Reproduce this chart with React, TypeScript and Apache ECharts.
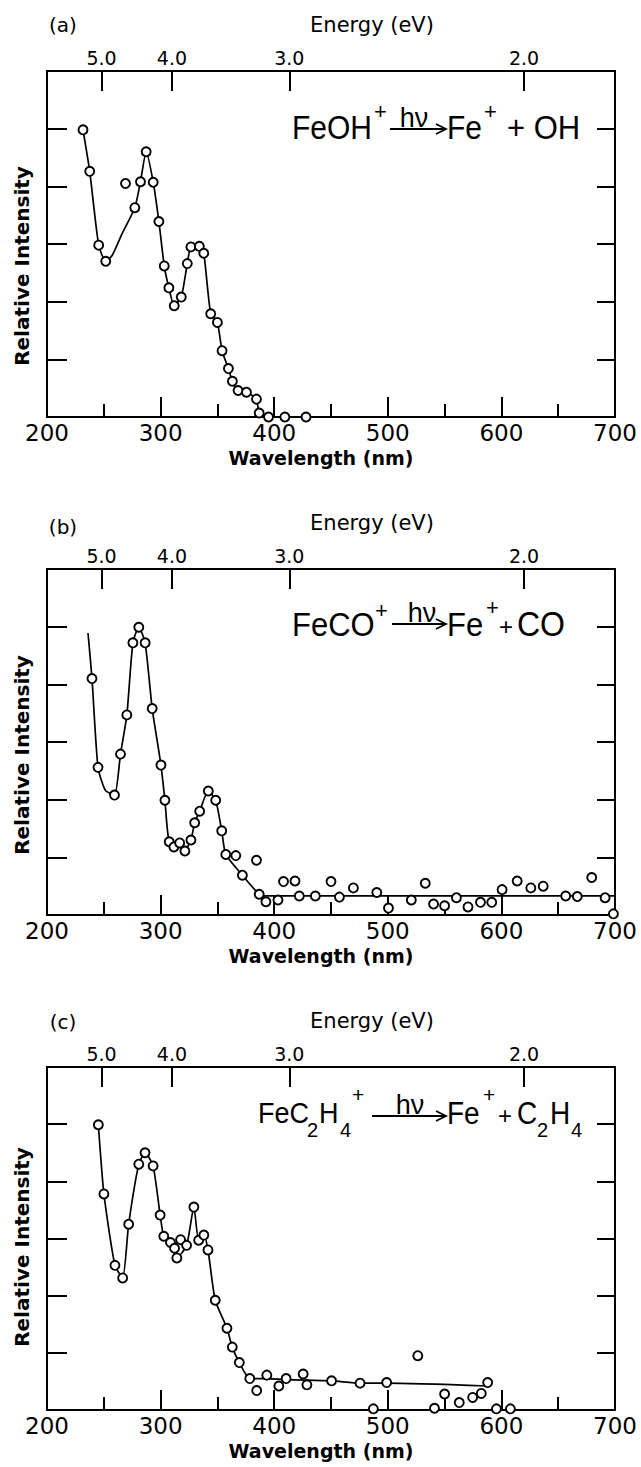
import React, { useEffect, useRef } from "react";
import * as echarts from "echarts";

// Photon energy conversion: E (eV) = HC / wavelength (nm)
const HC = 1239.84;
const ENERGY_TICKS = [5.0, 4.0, 3.0, 2.0];
const PANEL_LABELS = ["(a)", "(b)", "(c)"];

// ---- Panel (a): FeOH+ ----
const aPtsWl = [231.7, 237.6, 245.5, 251.7, 269.1, 277.3, 282.3, 287.3, 293.5, 298.5, 303.2, 307.3, 312.0, 318.2, 323.5, 326.7, 334.1, 338.0, 344.1, 350.0, 354.1, 359.7, 363.2, 368.2, 375.6, 384.4, 386.8, 395.0, 409.4, 428.0];
const aPtsInt = [4.98, 4.26, 2.98, 2.70, 4.05, 3.63, 4.08, 4.60, 4.07, 3.39, 2.62, 2.24, 1.93, 2.08, 2.66, 2.95, 2.96, 2.84, 1.79, 1.64, 1.15, 0.84, 0.62, 0.46, 0.43, 0.31, 0.07, 0.0, 0.0, 0.0];
const aCurveWl = [231.7, 237.6, 245.5, 251.7, 257.3, 266.1, 277.3, 282.3, 287.3, 293.5, 298.5, 303.2, 307.3, 312.0, 318.2, 323.5, 326.7, 334.1, 338.0, 344.1, 350.0, 354.1, 359.7, 363.2, 368.2, 375.6, 384.4, 386.8, 395.0];
const aCurveInt = [4.98, 4.26, 2.98, 2.70, 2.80, 3.18, 3.63, 4.08, 4.60, 4.07, 3.39, 2.62, 2.24, 1.93, 2.08, 2.66, 2.95, 2.96, 2.84, 1.79, 1.64, 1.15, 0.84, 0.62, 0.46, 0.43, 0.31, 0.07, 0.0];

// ---- Panel (b): FeCO+ ----
const bPtsWl = [239.6, 244.9, 259.4, 264.7, 270.3, 275.6, 280.8, 286.4, 292.6, 300.3, 303.8, 307.6, 311.7, 316.8, 321.4, 326.7, 330.0, 334.4, 342.0, 348.5, 353.8, 357.4, 366.2, 372.0, 384.4, 386.8, 392.7, 403.3, 408.2, 418.3, 422.1, 436.2, 450.0, 457.4, 469.7, 490.3, 500.6, 520.7, 533.0, 540.3, 550.0, 560.4, 570.6, 581.6, 591.5, 600.6, 613.9, 625.9, 636.8, 656.6, 666.8, 679.5, 691.3, 698.6];
const bPtsInt = [4.10, 2.56, 2.08, 2.79, 3.47, 4.72, 4.99, 4.72, 3.58, 2.60, 1.99, 1.27, 1.18, 1.25, 1.11, 1.30, 1.60, 1.80, 2.15, 1.99, 1.46, 1.05, 1.03, 0.69, 0.95, 0.36, 0.23, 0.26, 0.58, 0.59, 0.33, 0.33, 0.58, 0.31, 0.47, 0.39, 0.12, 0.26, 0.55, 0.19, 0.16, 0.30, 0.14, 0.22, 0.22, 0.44, 0.59, 0.47, 0.50, 0.33, 0.32, 0.65, 0.30, 0.02];
const bCurveWl = [236.1, 239.6, 244.9, 251.4, 259.4, 264.7, 270.3, 275.6, 280.8, 286.4, 292.6, 300.3, 303.8, 307.6, 316.0, 321.4, 326.7, 330.0, 334.4, 342.0, 348.5, 353.8, 357.4, 372.0, 386.8, 393.0, 700.0];
const bCurveInt = [4.89, 4.10, 2.56, 2.16, 2.08, 2.79, 3.47, 4.72, 4.99, 4.72, 3.58, 2.60, 1.99, 1.27, 1.20, 1.13, 1.30, 1.60, 1.80, 2.15, 1.99, 1.46, 1.05, 0.69, 0.36, 0.33, 0.33];

// ---- Panel (c): FeC2H4+ ----
const cPtsWl = [245.2, 250.1, 259.8, 266.6, 271.9, 280.8, 286.3, 293.4, 299.6, 302.8, 308.7, 312.3, 314.3, 317.6, 322.9, 329.3, 333.5, 338.1, 341.7, 348.1, 358.4, 363.1, 369.3, 378.5, 384.6, 393.5, 404.1, 410.5, 425.5, 428.8, 450.5, 475.6, 487.3, 499.0, 526.4, 541.1, 550.0, 562.9, 574.7, 582.3, 587.9, 595.6, 607.9];
const cPtsInt = [4.99, 3.78, 2.53, 2.31, 3.25, 4.30, 4.50, 4.27, 3.41, 3.04, 2.93, 2.83, 2.66, 2.98, 2.88, 3.55, 2.97, 3.06, 2.80, 1.92, 1.43, 1.10, 0.83, 0.55, 0.34, 0.61, 0.42, 0.55, 0.63, 0.44, 0.51, 0.47, 0.02, 0.48, 0.95, 0.03, 0.28, 0.13, 0.22, 0.29, 0.48, 0.02, 0.02];
const cCurveWl = [245.2, 250.1, 259.8, 266.6, 271.9, 280.8, 286.3, 293.4, 299.6, 302.8, 308.7, 314.3, 322.9, 329.3, 333.5, 338.1, 341.7, 348.1, 358.4, 363.1, 369.3, 378.5, 393.5, 410.5, 450.5, 475.6, 499.0, 587.9];
const cCurveInt = [4.99, 3.78, 2.53, 2.31, 3.25, 4.30, 4.50, 4.27, 3.41, 3.04, 2.93, 2.66, 2.88, 3.55, 2.97, 3.06, 2.80, 1.92, 1.43, 1.10, 0.83, 0.55, 0.55, 0.53, 0.51, 0.47, 0.47, 0.42];

const zip = (xs: number[], ys: number[]) => xs.map((x, i) => [x, ys[i]]);

const BLACK = "#000";
const AXIS_FONT = "DejaVu Sans";
const REACT_FONT = "Liberation Sans";
const axisLine = { show: true, onZero: false, lineStyle: { color: BLACK, width: 2 } };
const tickLine = { color: BLACK, width: 2 };

const GRIDS = [
  { left: 47, top: 71, width: 568, height: 346 },
  { left: 47, top: 569, width: 568, height: 346 },
  { left: 47, top: 1067, width: 568, height: 343 },
];

function xBottom(gridIndex: number) {
  return {
    type: "value",
    gridIndex,
    position: "bottom",
    min: 200,
    max: 700,
    interval: 100,
    axisLine,
    axisTick: { show: true, inside: true, length: 20, lineStyle: tickLine },
    minorTick: { show: true, splitNumber: 2, length: 13, lineStyle: tickLine },
    axisLabel: { color: BLACK, fontFamily: AXIS_FONT, fontSize: 23, margin: 4 },
    splitLine: { show: false },
    minorSplitLine: { show: false },
    name: "Wavelength (nm)",
    nameLocation: "middle",
    nameGap: 31,
    nameTextStyle: { color: BLACK, fontFamily: AXIS_FONT, fontWeight: "bold", fontSize: 19, padding: [0, 20, 0, 0] },
  };
}

function xTop(gridIndex: number) {
  const vals = ENERGY_TICKS.map((e) => HC / e);
  return {
    type: "value",
    gridIndex,
    position: "top",
    min: 200,
    max: 700,
    axisLine,
    axisTick: { show: true, inside: true, length: 20, customValues: vals, lineStyle: tickLine },
    axisLabel: {
      show: true,
      customValues: vals,
      formatter: (v: number) => (HC / v).toFixed(1),
      color: BLACK,
      fontFamily: AXIS_FONT,
      fontSize: 19,
      margin: 4,
    },
    splitLine: { show: false },
    name: "Energy (eV)",
    nameLocation: "middle",
    nameGap: 36,
    nameTextStyle: { color: BLACK, fontFamily: AXIS_FONT, fontSize: 21, padding: [0, 0, 0, 82] },
  };
}

function yLeft(gridIndex: number) {
  return {
    type: "value",
    gridIndex,
    position: "left",
    min: 0,
    max: 6,
    interval: 1,
    axisLine,
    axisTick: { show: true, inside: true, length: 20, lineStyle: tickLine },
    axisLabel: { show: false },
    splitLine: { show: false },
  };
}

function yRight(gridIndex: number) {
  return {
    type: "value",
    gridIndex,
    position: "right",
    min: 0,
    max: 6,
    interval: 1,
    axisLine,
    axisTick: { show: true, inside: true, length: 18, lineStyle: tickLine },
    axisLabel: { show: false },
    splitLine: { show: false },
  };
}

function panelSeries(i: number, pts: number[][], curve: number[][]) {
  return [
    {
      type: "line",
      xAxisIndex: 2 * i,
      yAxisIndex: 2 * i,
      data: curve,
      showSymbol: false,
      symbol: "none",
      smooth: 0.2,
      clip: false,
      lineStyle: { color: BLACK, width: 1.7 },
      z: 2,
    },
    {
      type: "scatter",
      xAxisIndex: 2 * i,
      yAxisIndex: 2 * i,
      data: pts,
      symbol: "circle",
      symbolSize: 9,
      clip: false,
      itemStyle: { color: "#fff", borderColor: BLACK, borderWidth: 1.9, opacity: 1 },
      z: 3,
    },
  ];
}

function txt(text: string, x: number, y: number, fontSize: number, opts: any = {}) {
  return {
    type: "text",
    x,
    y,
    z: 10,
    scaleY: opts.scaleY ?? 1,
    rotation: opts.rotation ?? 0,
    style: {
      text,
      fill: BLACK,
      fontSize,
      fontFamily: opts.fontFamily ?? REACT_FONT,
      fontWeight: opts.fontWeight ?? "normal",
      textAlign: opts.align ?? "left",
      textVerticalAlign: opts.valign ?? "middle",
    },
  };
}

function arrow(x1: number, x2: number, y: number) {
  return [
    { type: "line", z: 10, shape: { x1, y1: y, x2, y2: y }, style: { stroke: BLACK, lineWidth: 1.8 } },
    {
      type: "polyline",
      z: 10,
      shape: { points: [[x2 - 10, y - 5], [x2, y], [x2 - 10, y + 5]] },
      style: { stroke: BLACK, lineWidth: 1.8, fill: "none" },
    },
  ];
}

function buildGraphics() {
  const g: any[] = [];
  const labelY = [25, 527, 1022];
  labelY.forEach((y, i) => g.push(txt(PANEL_LABELS[i], 63, y, 20, { align: "center", fontFamily: AXIS_FONT })));

  // y-axis titles
  const yTitleY = [266, 755, 1247];
  yTitleY.forEach((y) =>
    g.push(
      txt("Relative Intensity", 22, y, 20, {
        align: "center",
        fontFamily: AXIS_FONT,
        fontWeight: "bold",
        rotation: Math.PI / 2,
      })
    )
  );

  const big = { scaleY: 1.1 };
  // (a) FeOH+ -> Fe+ + OH
  g.push(txt("FeOH", 292, 127, 30, big));
  g.push(txt("+", 374, 111, 22));
  g.push(...arrow(390, 446, 129));
  g.push(txt("hν", 414, 131, 27, { align: "center", valign: "bottom" }));
  g.push(txt("Fe", 447, 127, 30, big));
  g.push(txt("+", 484, 111, 22));
  g.push(txt("+ OH", 507, 127, 31, big));

  // (b) FeCO+ -> Fe+ + CO
  g.push(txt("FeCO", 292, 624, 31, big));
  g.push(txt("+", 375, 610, 22));
  g.push(...arrow(392, 446, 624));
  g.push(txt("hν", 422, 626, 27, { align: "center", valign: "bottom" }));
  g.push(txt("Fe", 447, 624, 31, big));
  g.push(txt("+", 486, 607, 22));
  g.push(txt("+", 499, 626, 24));
  g.push(txt("CO", 517, 624, 32, big));

  // (c) FeC2H4+ -> Fe+ + C2H4
  g.push(txt("FeC", 258, 1113, 27, big));
  g.push(txt("2", 307, 1130, 20));
  g.push(txt("H", 319, 1113, 27, big));
  g.push(txt("4", 340, 1130, 20));
  g.push(txt("+", 352, 1094, 21));
  g.push(...arrow(372, 446, 1116));
  g.push(txt("hν", 410, 1118, 27, { align: "center", valign: "bottom" }));
  g.push(txt("Fe", 447, 1113, 28, big));
  g.push(txt("+", 483, 1094, 21));
  g.push(txt("+", 498, 1115, 24));
  g.push(txt("C", 517, 1113, 28, big));
  g.push(txt("2", 537, 1130, 20));
  g.push(txt("H", 550, 1113, 28, big));
  g.push(txt("4", 571, 1130, 20));
  return g;
}

export default function App() {
  const ref = useRef<HTMLDivElement>(null);
  useEffect(() => {
    if (!ref.current) return;
    const chart = echarts.init(ref.current, null, { renderer: "svg" });
    chart.setOption({
      animation: false,
      backgroundColor: "#fff",
      grid: GRIDS,
      xAxis: [xBottom(0), xTop(0), xBottom(1), xTop(1), xBottom(2), xTop(2)],
      yAxis: [yLeft(0), yRight(0), yLeft(1), yRight(1), yLeft(2), yRight(2)],
      series: [
        ...panelSeries(0, zip(aPtsWl, aPtsInt), zip(aCurveWl, aCurveInt)),
        ...panelSeries(1, zip(bPtsWl, bPtsInt), zip(bCurveWl, bCurveInt)),
        ...panelSeries(2, zip(cPtsWl, cPtsInt), zip(cCurveWl, cCurveInt)),
      ],
      graphic: buildGraphics(),
    });
    return () => chart.dispose();
  }, []);
  return <div ref={ref} style={{ position: "absolute", left: 0, top: 0, width: 641, height: 1467 }} />;
}
